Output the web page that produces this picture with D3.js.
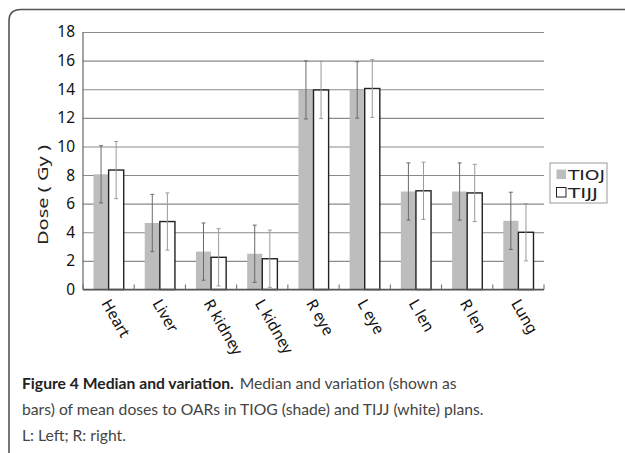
<!DOCTYPE html>
<html>
<head>
<meta charset="utf-8">
<script src="https://cdn.jsdelivr.net/npm/d3@7"></script>
<style>
  body { margin: 0; background: #fff; }
  svg { display: block; }
</style>
</head>
<body>
<script>
// organs along the x axis
var organs = ["Heart", "Liver", "R kidney", "L kidney", "R eye", "L eye", "L len", "R len", "Lung"];
var seriesNames = ["TIOJ", "TIJJ"];
// median doses (Gy)
var tiogDose = [8.05, 4.65, 2.65, 2.5, 13.95, 13.95, 6.85, 6.85, 4.8];
var tijjDose = [8.35, 4.75, 2.25, 2.15, 13.95, 14.05, 6.9, 6.75, 4.0];
// variation (half length of the bars)
var tiogErr = [2, 2, 2, 2, 2.03, 1.97, 2, 2, 2];
var tijjErr = [2, 2, 2, 2, 2, 2.02, 2, 2, 2];
var yTicks = [0, 2, 4, 6, 8, 10, 12, 14, 16, 18];

window.onload = () => {
    var W = 625, H = 453;
    var plot = { left: 83, right: 544, top: 32, bottom: 289.5 };
    var chartFont = "'Noto Sans', 'DejaVu Sans', sans-serif";

    var svg = d3.select("body").append("svg")
        .attr("width", W).attr("height", H);

    // figure frame (rounded top-left corner)
    svg.append("path")
        .attr("d", "M9," + H + " L9,21 Q9,9.5 21,9.5 L" + W + ",9.5")
        .attr("fill", "none")
        .attr("stroke", "#555")
        .attr("stroke-width", 1.6);

    var x = d3.scaleBand().domain(organs).range([plot.left, plot.right]);
    var y = d3.scaleLinear().domain([0, 18]).range([plot.bottom, plot.top]);
    var barW = 15.1;

    // gridlines + y tick labels
    var yAxis = svg.append("g")
        .attr("transform", "translate(" + plot.left + ",0)")
        .call(d3.axisLeft(y).tickValues(yTicks).tickSize(-(plot.right - plot.left)).tickPadding(8).tickFormat(d3.format("d")));
    yAxis.select(".domain").remove();
    yAxis.selectAll(".tick line").attr("stroke", "#8a8a8a").attr("stroke-width", 1.1);
    yAxis.selectAll(".tick text")
        .style("font-family", chartFont)
        .style("font-size", "15.5px")
        .attr("fill", "#111");

    // y axis line
    svg.append("line")
        .attr("x1", plot.left).attr("x2", plot.left)
        .attr("y1", plot.top).attr("y2", plot.bottom)
        .attr("stroke", "#666").attr("stroke-width", 1.2);

    // y axis title
    svg.append("text")
        .attr("transform", "translate(48,195) rotate(-90)")
        .attr("x", -50)
        .attr("textLength", 100)
        .attr("lengthAdjust", "spacingAndGlyphs")
        .style("font-family", chartFont)
        .style("font-size", "15px")
        .attr("fill", "#222")
        .text("Dose ( Gy )");

    var rows = organs.map(function (o, i) {
        return { organ: o, a: tiogDose[i], b: tijjDose[i], ea: tiogErr[i], eb: tijjErr[i] };
    });

    var groups = svg.append("g").selectAll("g")
        .data(rows).enter().append("g");

    // shaded bars
    groups.append("rect")
        .attr("x", function (d) { return x(d.organ) + x.bandwidth() / 2 - barW; })
        .attr("y", function (d) { return y(d.a); })
        .attr("width", barW)
        .attr("height", function (d) { return y(0) - y(d.a); })
        .attr("fill", "#bdbdbd");

    // white bars
    groups.append("rect")
        .attr("x", function (d) { return x(d.organ) + x.bandwidth() / 2; })
        .attr("y", function (d) { return y(d.b); })
        .attr("width", barW)
        .attr("height", function (d) { return y(0) - y(d.b); })
        .attr("fill", "#fff")
        .attr("stroke", "#222")
        .attr("stroke-width", 1.4);

    // error bars
    function errBar(sel, cx, val, err, col) {
        sel.append("line")
            .attr("x1", cx).attr("x2", cx)
            .attr("y1", function (d) { return y(val(d) - err(d)); })
            .attr("y2", function (d) { return y(val(d) + err(d)); })
            .attr("stroke", col).attr("stroke-width", 1);
        [-1, 1].forEach(function (s) {
            sel.append("line")
                .attr("x1", function (d) { return cx(d) - 2; })
                .attr("x2", function (d) { return cx(d) + 2; })
                .attr("y1", function (d) { return y(val(d) + s * err(d)); })
                .attr("y2", function (d) { return y(val(d) + s * err(d)); })
                .attr("stroke", col).attr("stroke-width", 1);
        });
    }
    errBar(groups, function (d) { return x(d.organ) + x.bandwidth() / 2 - barW / 2; },
        function (d) { return d.a; }, function (d) { return d.ea; }, "#6a6a6a");
    errBar(groups, function (d) { return x(d.organ) + x.bandwidth() / 2 + barW / 2; },
        function (d) { return d.b; }, function (d) { return d.eb; }, "#9a9a9a");

    // x axis line with inward ticks
    var xAxis = svg.append("g")
        .attr("transform", "translate(0," + plot.bottom + ")");
    xAxis.append("line")
        .attr("x1", plot.left).attr("x2", plot.right)
        .attr("stroke", "#555").attr("stroke-width", 1.3);
    var edges = organs.map(function (o) { return x(o); }).concat([plot.right]);
    xAxis.selectAll(".edge").data(edges).enter().append("line")
        .attr("x1", function (d) { return d; }).attr("x2", function (d) { return d; })
        .attr("y1", -5).attr("y2", 0)
        .attr("stroke", "#666").attr("stroke-width", 1);

    // rotated category labels
    svg.append("g").selectAll("text")
        .data(organs).enter().append("text")
        .attr("transform", function (d) {
            return "translate(" + (x(d) + x.bandwidth() / 2 - 3) + "," + (plot.bottom + 11) + ") rotate(60)";
        })
        .attr("text-anchor", "start")
        .attr("dy", "0.35em")
        .style("font-family", chartFont)
        .style("font-size", "15.5px")
        .attr("fill", "#111")
        .text(function (d) { return d; });

    // legend
    var lg = svg.append("g").attr("transform", "translate(550,163)");
    lg.append("rect")
        .attr("width", 57).attr("height", 40)
        .attr("fill", "#fff").attr("stroke", "#999").attr("stroke-width", 1);
    seriesNames.forEach(function (s, i) {
        var row = lg.append("g").attr("transform", "translate(6," + (6 + i * 18) + ")");
        row.append("rect")
            .attr("x", 0.5).attr("y", 0.5)
            .attr("width", 9.5).attr("height", 9.5)
            .attr("fill", i === 0 ? "#bdbdbd" : "#fff")
            .attr("stroke", i === 0 ? "none" : "#222")
            .attr("stroke-width", 1);
        row.append("text")
            .attr("x", 12).attr("y", 11)
            .attr("textLength", i === 0 ? 37 : 30)
            .attr("lengthAdjust", "spacingAndGlyphs")
            .style("font-family", "'DejaVu Sans Condensed', 'DejaVu Sans', sans-serif")
            .style("font-size", "14px")
            .attr("fill", "#222")
            .text(s);
    });

    // caption: one font size for all lines, small enough that the widest fits
    var capFont = "Lato, 'Noto Sans', sans-serif";
    function capLine(yp) {
        return svg.append("text")
            .attr("x", 22).attr("y", yp)
            .style("font-family", capFont)
            .style("font-size", "19px")
            .attr("fill", "#444");
    }
    var line1 = capLine(389);
    line1.append("tspan")
        .style("font-weight", "bold")
        .attr("fill", "#222")
        .text("Figure 4 Median and variation.");
    line1.append("tspan")
        .attr("dx", 6)
        .text("Median and variation (shown as");
    var line2 = capLine(415).text("bars) of mean doses to OARs in TIOG (shade) and TIJJ (white) plans.");
    var line3 = capLine(441).text("L: Left; R: right.");
    var lines = [[line1, 473], [line2, 483], [line3, 104]];
    var scale = d3.min(lines, function (l) {
        return Math.min(1, l[1] / l[0].node().getComputedTextLength());
    });
    lines.forEach(function (l) { l[0].style("font-size", (19 * scale) + "px"); });
};
</script>
</body>
</html>
